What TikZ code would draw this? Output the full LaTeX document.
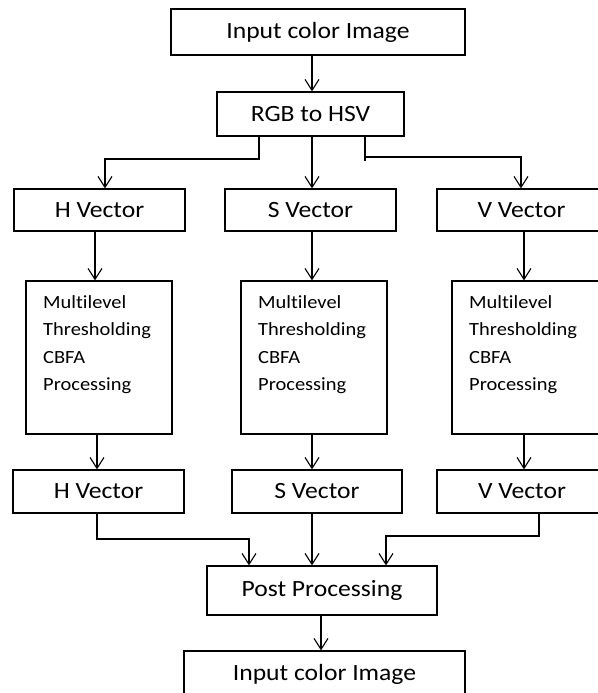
\documentclass[tikz,border=0pt]{standalone}
\usepackage{fontspec}
\setmainfont{Carlito}[FakeStretch=1.1, Ligatures=NoCommon]
\usetikzlibrary{arrows.meta}
\begin{document}
\begin{tikzpicture}[x=1pt,y=-1pt,
  box/.style={draw, line width=1.2pt, inner sep=0pt, font=\fontsize{23.3}{26}\selectfont},
  tall/.style={draw, line width=1.2pt, inner sep=0pt, minimum width=146pt, minimum height=153pt},
  body/.style={align=left, anchor=north west, inner sep=0pt, font=\fontsize{18.6}{27.3}\selectfont},
  lin/.style={line width=1.2pt},
  arr/.style={line width=1.2pt, -{Straight Barb[length=11pt,width=14pt,line width=1.1pt]}}]
\useasboundingbox (0,0) rectangle (597,693);
\fill[white] (0,0) rectangle (597,693);

% top of the chain
\node[box, minimum width=294pt, minimum height=46pt] (in) at (318,32) {Input color Image};
\node[box, minimum width=187pt, minimum height=44pt] (rgb) at (310.5,114) {RGB to HSV};

% channel vectors
\node[box, minimum width=171pt, minimum height=42pt] (h1) at (99.5,210) {H Vector};
\node[box, minimum width=171pt, minimum height=42pt] (s1) at (310.5,210) {S Vector};
\node[box, minimum width=169pt, minimum height=42pt] (v1) at (521.5,210) {V Vector};

% thresholding blocks
\node[tall] (h2) at (99,357.5) {};
\node[tall] (s2) at (314,357.5) {};
\node[tall, minimum width=148pt] (v2) at (526,357.5) {};
\node[body] (h2t) at (43,295.5) {Multilevel\\Thresholding\\CBFA\\Processing};
\node[body] (s2t) at (258,295.5) {Multilevel\\Thresholding\\CBFA\\Processing};
\node[body] (v2t) at (469,295.5) {Multilevel\\Thresholding\\CBFA\\Processing};

% processed vectors
\node[box, minimum width=171pt, minimum height=43pt] (h3) at (98.5,491.5) {H Vector};
\node[box, minimum width=170pt, minimum height=43pt] (s3) at (317,491.5) {S Vector};
\node[box, minimum width=170pt, minimum height=43pt] (v3) at (522,491.5) {V Vector};

% merge and output
\node[box, minimum width=230pt, minimum height=49pt] (post) at (322,590.5) {Post Processing};
\node[box, minimum width=281pt, minimum height=46pt] (out) at (324.5,674) {Input color Image};

% connectors
\draw[arr] (in.south -| 312,0) -- (rgb.north -| 312,0);
\draw[arr] (rgb.south -| 259,0) |- (105,159) -- (h1.north -| 105,0);
\draw[arr] (rgb.south -| 312,0) -- (s1.north -| 312,0);
\draw[lin] (rgb.south -| 365,0) -- (365,161);
\draw[arr] (365,157) -| (v1.north -| 521,0);

\draw[arr] (h1.south -| 95,0) -- (h2.north -| 95,0);
\draw[arr] (s1.south -| 312,0) -- (s2.north -| 312,0);
\draw[arr] (v1.south -| 524,0) -- (v2.north -| 524,0);

\draw[arr] (h2.south -| 97,0) -- (h3.north -| 97,0);
\draw[arr] (s2.south -| 312,0) -- (s3.north -| 312,0);
\draw[arr] (v2.south -| 524,0) -- (v3.north -| 524,0);

\draw[arr] (h3.south -| 97,0) |- (249,539) -- (post.north -| 249,0);
\draw[arr] (s3.south -| 312,0) -- (post.north -| 312,0);
\draw[arr] (v3.south -| 539,0) |- (386,536) -- (post.north -| 386,0);
\draw[arr] (post.south -| 321,0) -- (out.north -| 321,0);
\end{tikzpicture}
\end{document}
